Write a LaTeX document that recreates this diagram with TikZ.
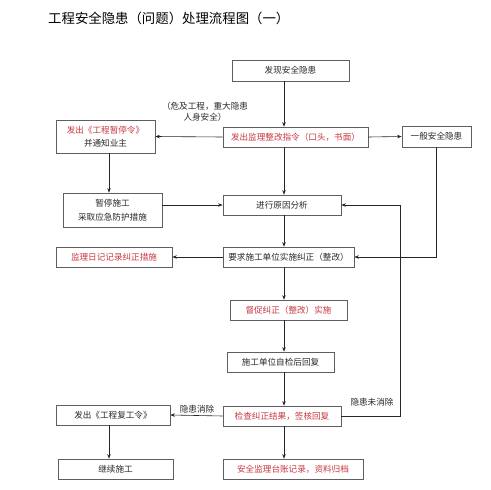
\documentclass[tikz,border=0pt]{standalone}
\usepackage{fontspec}
\setmainfont{Noto Sans CJK SC}
\usetikzlibrary{arrows.meta}
\definecolor{boxgray}{RGB}{95,95,95}
\definecolor{txtred}{RGB}{200,55,65}
\definecolor{txtblk}{RGB}{40,40,40}
\tikzset{
  box/.style={draw=boxgray, line width=0.7pt, inner sep=1pt, align=center,
    font=\fontsize{8.6}{13.5}\selectfont, text=txtblk},
  redbox/.style={box, text=txtred},
  arr/.style={draw=black!85, line width=0.6pt, -{Stealth[length=4.5pt,width=3.5pt]}},
  ln/.style={draw=black!85, line width=0.6pt},
  lbl/.style={font=\fontsize{8.6}{11}\selectfont, text=txtblk, align=center, inner sep=0pt}
}
\begin{document}
\begin{tikzpicture}[x=1pt,y=-1pt]
\useasboundingbox (0,0) rectangle (491,490);
\fill[white] (0,0) rectangle (491,490);
\node[anchor=west, font=\fontsize{13.4}{15}\selectfont, text=black, inner sep=0pt] (title) at (48,18) {工程安全隐患（问题）处理流程图（一）};

\node[box, minimum width=117pt, minimum height=21pt] (n1) at (290.5,70.5) {发现安全隐患};
\node[redbox, minimum width=145pt, minimum height=20pt] (n2) at (295.5,137) {发出监理整改指令（口头，书面）};
\node[box, minimum width=69pt, minimum height=21pt] (n3) at (436.5,136.5) {一般安全隐患};
\node[box, minimum width=99pt, minimum height=33pt] (n4) at (105.5,136.5) {\textcolor{txtred}{发出《工程暂停令》}\\并通知业主};
\node[box, minimum width=99pt, minimum height=34pt] (n5) at (112.5,210) {暂停施工\\采取应急防护措施};
\node[box, minimum width=118pt, minimum height=20pt] (n6) at (282,205) {进行原因分析};
\node[box, minimum width=131pt, minimum height=20pt] (n7) at (288.5,257) {要求施工单位实施纠正（整改）};
\node[redbox, minimum width=116pt, minimum height=20pt] (n8) at (114,257) {监理日记记录纠正措施};
\node[redbox, minimum width=117pt, minimum height=20pt] (n9) at (288.5,310) {督促纠正（整改）实施};
\node[box, minimum width=107pt, minimum height=20pt] (n10) at (280.5,362) {施工单位自检后回复};
\node[redbox, minimum width=118pt, minimum height=20pt] (n11) at (282,416) {检查纠正结果，签核回复};
\node[box, minimum width=114pt, minimum height=20pt] (n12) at (113,415) {发出《工程复工令》};
\node[box, minimum width=115pt, minimum height=20pt] (n13) at (115.5,469) {继续施工};
\node[redbox, minimum width=140pt, minimum height=20pt] (n14) at (293,469) {安全监理台账记录，资料归档};

\node[lbl] (l1) at (205,112) {（危及工程，重大隐患\\人身安全）};
\node[lbl] (l2) at (372,402) {隐患未消除};
\node[lbl] (l3) at (197,409) {隐患消除};

\coordinate (sp) at (284,0);
\coordinate (lx) at (109,0);
\coordinate (fb) at (400,416);

\draw[arr] (n1.south -| sp) -- (n2.north -| sp);
\draw[arr] (n2.west) -- (n4.east);
\draw[arr] (n2.east) -- (n3.west);
\draw[arr] (n4.south -| lx) -- (n5.north -| lx);
\draw[arr] (n5.east |- n6.west) -- (n6.west);
\draw[arr] (n2.south -| sp) -- (n6.north -| sp);
\draw[arr] (n3.south) |- (n7.east);
\draw[arr] (n6.south -| sp) -- (n7.north -| sp);
\draw[arr] (n7.west) -- (n8.east);
\draw[arr] (n7.south -| sp) -- (n9.north -| sp);
\draw[arr] (n9.south -| sp) -- (n10.north -| sp);
\draw[arr] (n10.south -| sp) -- (n11.north -| sp);
\draw[arr] (n11.east) -- (fb) |- (n6.east);
\draw[arr] (n11.west) -- (n12.east);
\draw[arr] (n12.south -| lx) -- (n13.north -| lx);
\draw[arr] (n11.south -| sp) -- (n14.north -| sp);
\end{tikzpicture}
\end{document}
